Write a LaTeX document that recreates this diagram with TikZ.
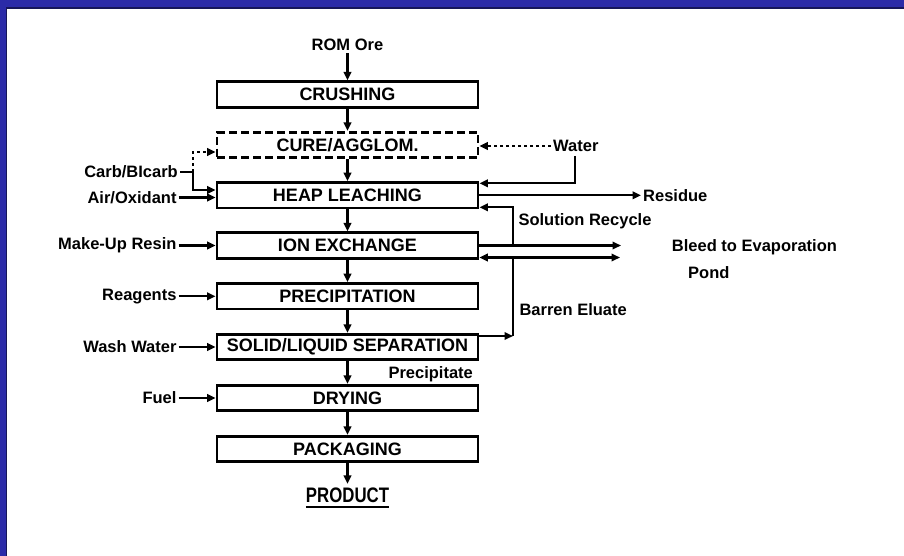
\documentclass[tikz,border=0pt]{standalone}
\usepackage{fontspec}
\setmainfont{Liberation Sans}
\usetikzlibrary{arrows.meta}
\definecolor{frameblue}{RGB}{43,43,168}
\definecolor{framedark}{RGB}{22,22,90}
\begin{document}
\begin{tikzpicture}[x=1pt,y=-1pt,
  procbox/.style={draw, line width=2.8pt, minimum width=261pt, minimum height=25.5pt, inner sep=0pt,
    font=\fontsize{18}{20}\selectfont\bfseries},
  lab/.style={inner sep=2pt, font=\fontsize{16.5}{18}\selectfont\bfseries},
  plain/.style={line width=2.2pt},
  flow/.style={line width=2.2pt, -{Triangle[length=8.5pt,width=7.5pt]}},
  dflow/.style={line width=2.2pt, {Triangle[length=8.5pt,width=7.5pt]}-{Triangle[length=8.5pt,width=7.5pt]}},
  dotflow/.style={line width=2.2pt, dash pattern=on 3pt off 3pt, -{Triangle[length=8.5pt,width=7.5pt]}}
]
\useasboundingbox (0,0) rectangle (904,556);
\fill[white] (0,0) rectangle (904,556);
% frame
\fill[frameblue] (0,0) rectangle (904,8);
\fill[frameblue] (0,0) rectangle (6,556);
\draw[framedark, line width=1.6pt] (6.5,556) -- (6.5,8.3) -- (904,8.3);

% process boxes
\node[procbox] (crush) at (347.5,94.5) {CRUSHING};
\node[procbox, dash pattern=on 8pt off 4pt] (cure) at (347.5,145) {CURE/AGGLOM.};
\node[procbox] (heap) at (347.5,195.3) {HEAP LEACHING};
\node[procbox] (ion) at (347.5,245.5) {ION EXCHANGE};
\node[procbox] (prec) at (347.5,296.3) {PRECIPITATION};
\node[procbox] (solid) at (347.5,347) {SOLID/LIQUID SEPARATION};
\node[procbox] (dry) at (347.5,398) {DRYING};
\node[procbox] (pack) at (347.5,449) {PACKAGING};

% top / bottom
\node[lab] (rom) at (347.5,45) {ROM Ore};
\node[anchor=base, inner sep=0pt, font=\fontsize{21}{22}\selectfont\bfseries] (product) at (347.5,502.7) {\scalebox{0.8}[1]{PRODUCT}};
\draw[line width=2.4pt] ([yshift=-4pt]product.base west) -- ([yshift=-4pt]product.base east);

% main flow
\draw[flow] (rom) -- (crush);
\draw[flow] (crush) -- (cure);
\draw[flow] (cure) -- (heap);
\draw[flow] (heap) -- (ion);
\draw[flow] (ion) -- (prec);
\draw[flow] (prec) -- (solid);
\draw[flow] (solid) -- (dry);
\draw[flow] (dry) -- (pack);
\draw[flow] (pack) -- ([yshift=4pt]product.north);

% left inputs
\node[lab, anchor=east] (carb) at (180,172) {Carb/BIcarb};
\coordinate (cj) at (193,172);
\draw[plain] (carb.east) -- (cj);
\draw[dotflow] (cj) |- ([yshift=-7pt]cure.west);
\draw[flow] (cj) |- ([yshift=5.3pt]heap.west);
\node[lab, anchor=east] (air) at (178.7,197.5) {Air/Oxidant};
\draw[flow] (air.east) -- (air.east -| heap.west);
\node[lab, anchor=east] (resin) at (178.7,245.5) {Make-Up Resin};
\draw[flow] (resin) -- (ion);
\node[lab, anchor=east] (reag) at (178.7,296.3) {Reagents};
\draw[flow] (reag) -- (prec);
\node[lab, anchor=east] (wash) at (178.7,347) {Wash Water};
\draw[flow] (wash) -- (solid);
\node[lab, anchor=east] (fuel) at (178.7,398) {Fuel};
\draw[flow] (fuel) -- (dry);

% right side
\node[lab, anchor=west] (water) at (551,146) {Water};
\draw[dotflow] (water.west) -- (water.west -| cure.east);
\coordinate (wt) at (575,156);
\draw[flow] (wt) |- ([yshift=12pt]heap.east);

\node[lab, anchor=west] (resid) at (641,195.3) {Residue};
\draw[flow] (heap.east) -- (resid.west);

\coordinate (sr) at (513,245.5);
\draw[flow] (sr) |- ([yshift=-12pt]heap.east);
\node[lab, anchor=west] (srl) at (516.3,221.7) {Solution Recycle};

\coordinate (bleedA) at (621,245.5);
\coordinate (bleedB) at (620,257.5);
\draw[flow] (ion.east) -- (bleedA);
\draw[dflow] ([yshift=-12pt]ion.east) -- (bleedB);
\node[lab, anchor=west] (bleed) at (669.7,247.3) {Bleed to Evaporation};
\node[lab, anchor=west] (pond) at (686,272.3) {Pond};

\coordinate (be) at (513,336);
\coordinate (bj) at (513,257.5);
\draw[flow] ([yshift=11pt]solid.east) -- (be);
\draw[plain] (be) -- (bj);
\node[lab, anchor=west] (bel) at (517.3,310) {Barren Eluate};

\node[lab, anchor=west] (precl) at (386.3,374.3) {Precipitate};
\end{tikzpicture}
\end{document}
